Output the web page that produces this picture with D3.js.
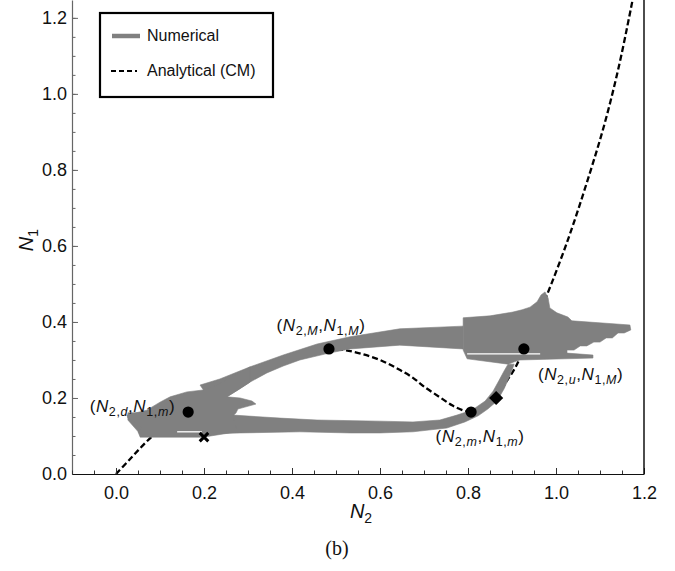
<!DOCTYPE html>
<html><head><meta charset="utf-8">
<script src="https://cdn.jsdelivr.net/npm/d3@7"></script>
<style>body{margin:0;background:#fff}svg{display:block}</style>
</head><body>
<svg id="c" width="675" height="571"></svg>
<script>
// ---------- data ----------
const xTicks = [0.0, 0.2, 0.4, 0.6, 0.8, 1.0, 1.2];
const yTicks = [0.0, 0.2, 0.4, 0.6, 0.8, 1.0, 1.2];
const xDomain = [-0.1, 1.2];
const yDomain = [0, 1.247];

// analytical critical manifold (N2, N1)
const analyticalCM = [
  [0,0],[0.03,0.037],[0.06,0.074],[0.09,0.108],[0.12,0.139],[0.164,0.163],
  [0.214,0.208],[0.259,0.239],[0.305,0.268],[0.380,0.305],[0.430,0.321],[0.484,0.329],
  [0.52,0.326],[0.558,0.316],[0.60,0.300],[0.64,0.277],[0.675,0.253],[0.70,0.230],
  [0.736,0.202],[0.765,0.180],[0.790,0.167],[0.807,0.163],
  [0.835,0.176],[0.864,0.200],[0.886,0.241],[0.907,0.279],[0.927,0.329],[0.951,0.395],
  [0.978,0.467],[1.027,0.616],[1.071,0.770],[1.111,0.924],[1.144,1.078],[1.174,1.247]
];

// numerical trajectory envelope (N2, N1) outlines
const numLowerBand = [
  [0.027,0.161],[0.077,0.161],[0.145,0.158],[0.266,0.155],[0.373,0.147],[0.457,0.142],
  [0.600,0.139],[0.675,0.137],[0.736,0.142],[0.775,0.155],[0.809,0.168],[0.839,0.192],
  [0.857,0.218],[0.870,0.245],[0.882,0.271],[0.891,0.289],[0.905,0.289],[0.895,0.258],
  [0.882,0.224],[0.866,0.192],[0.845,0.171],[0.823,0.153],[0.793,0.137],[0.752,0.121],
  [0.675,0.111],[0.600,0.108],[0.532,0.108],[0.418,0.111],[0.282,0.108],[0.191,0.105],
  [0.100,0.103],[0.055,0.105],[0.027,0.142]
];
const numUpperBand = [
  [0.191,0.234],[0.236,0.250],[0.305,0.282],[0.380,0.313],[0.457,0.342],[0.532,0.361],
  [0.645,0.382],[0.789,0.389],[0.789,0.329],[0.645,0.339],[0.532,0.329],[0.484,0.318],
  [0.418,0.300],[0.380,0.284],[0.343,0.266],[0.305,0.242],[0.277,0.221],[0.252,0.203],
  [0.214,0.195]
];
const numLeftBlob = [
  [0.025,0.155],[0.070,0.168],[0.100,0.189],[0.123,0.203],[0.161,0.216],[0.198,0.221],
  [0.230,0.234],[0.259,0.253],[0.282,0.266],[0.305,0.282],[0.305,0.242],[0.277,0.221],
  [0.252,0.203],[0.282,0.200],[0.309,0.192],[0.318,0.184],[0.293,0.176],[0.277,0.171],
  [0.273,0.161],[0.266,0.153],[0.275,0.111],[0.198,0.097],[0.055,0.097],[0.050,0.111],
  [0.059,0.121],[0.048,0.134],[0.027,0.147]
];
const numRightBlob = [
  [0.789,0.411],[0.850,0.416],[0.902,0.426],[0.923,0.432],[0.941,0.439],[0.957,0.453],
  [0.966,0.471],[0.975,0.479],[0.982,0.463],[0.986,0.437],[1.002,0.424],[1.027,0.413],
  [1.036,0.403],[1.168,0.392],[1.170,0.379],[1.155,0.371],[1.141,0.371],[1.128,0.358],
  [1.114,0.358],[1.100,0.347],[1.086,0.347],[1.070,0.337],[1.055,0.337],[1.041,0.326],
  [1.025,0.326],[1.025,0.318],[1.084,0.313],[1.084,0.305],[0.918,0.300],[0.905,0.295],
  [0.891,0.289],[0.798,0.303],[0.789,0.326]
];
const numGaps = [
  [[0.798,0.316],[0.964,0.316]],
  [[0.139,0.111],[0.195,0.111]]
];

// special points
const eqNames = ["d", "M", "m", "u"];
const eqN2 = [0.164, 0.484, 0.807, 0.927];
const eqN1 = [0.163, 0.329, 0.163, 0.329];
const eqLabels = [
  [["(",0,0],["N",1,0],["2,",0,1],["d",1,1],[",",0,0],["N",1,0],["1,",0,1],["m",1,1],[")",0,0]],
  [["(",0,0],["N",1,0],["2,",0,1],["M",1,1],[",",0,0],["N",1,0],["1,",0,1],["M",1,1],[")",0,0]],
  [["(",0,0],["N",1,0],["2,",0,1],["m",1,1],[",",0,0],["N",1,0],["1,",0,1],["m",1,1],[")",0,0]],
  [["(",0,0],["N",1,0],["2,",0,1],["u",1,1],[",",0,0],["N",1,0],["1,",0,1],["M",1,1],[")",0,0]]
];
const diamondPoint = [0.864, 0.200];
const crossPoint = [0.200, 0.097];
const legendItems = ["Numerical", "Analytical (CM)"];

// ---------- drawing ----------
const FONT = "'Liberation Sans', Arial, Helvetica, sans-serif";
const GRAY = "#808080";
const svg = d3.select("#c").attr("font-family", FONT);
const pL = 72, pR = 644, pT = 0, pB = 474;
const x = d3.scaleLinear().domain(xDomain).range([pL, pR]);
const y = d3.scaleLinear().domain(yDomain).range([pB, pT]);

svg.append("defs").append("clipPath").attr("id","clip")
  .append("rect").attr("x", pL).attr("y", pT).attr("width", pR-pL).attr("height", pB-pT);

const plot = svg.append("g").attr("clip-path","url(#clip)");
const line = d3.line().x(d => x(d[0])).y(d => y(d[1]));
const smooth = d3.line().x(d => x(d[0])).y(d => y(d[1])).curve(d3.curveCatmullRom.alpha(0.5));
const closed = d3.line().x(d => x(d[0])).y(d => y(d[1])).curve(d3.curveLinearClosed);

// analytical (under the numerical envelope)
plot.append("path").datum(analyticalCM).attr("d", smooth)
  .attr("fill","none").attr("stroke","#000").attr("stroke-width",2.3)
  .attr("stroke-dasharray","6,3");

// numerical envelope
[numLowerBand, numUpperBand, numLeftBlob, numRightBlob].forEach(poly => {
  plot.append("path").datum(poly).attr("d", closed)
    .attr("fill", GRAY).attr("stroke", GRAY).attr("stroke-width", 0.6)
    .attr("stroke-linejoin","round");
});
numGaps.forEach(g => {
  plot.append("path").datum(g).attr("d", line)
    .attr("stroke","#fff").attr("stroke-width",1.3).attr("fill","none");
});

// markers
plot.selectAll("circle.eq").data(eqN2).enter().append("circle")
  .attr("cx", d => x(d)).attr("cy", (d,i) => y(eqN1[i])).attr("r", 5.6).attr("fill","#000");
plot.append("path")
  .attr("d", d3.symbol().type(d3.symbolSquare).size(100)())
  .attr("transform", `translate(${x(diamondPoint[0])},${y(diamondPoint[1])}) rotate(45)`)
  .attr("fill","#000");
{
  const cx = x(crossPoint[0]), cy = y(crossPoint[1]), s = 4.3;
  plot.append("path").attr("d", `M${cx-s},${cy-s}L${cx+s},${cy+s}M${cx-s},${cy+s}L${cx+s},${cy-s}`)
    .attr("stroke","#000").attr("stroke-width",3).attr("fill","none");
}

// rich text helper
function rich(sel, parts, size, subSize, shift) {
  let inSub = false;
  parts.forEach(([t, it, sub]) => {
    const ts = sel.append("tspan").text(t)
      .attr("font-style", it ? "italic" : "normal")
      .attr("font-size", sub ? subSize : size);
    if (sub && !inSub) ts.attr("dy", shift);
    if (!sub && inSub) ts.attr("dy", -shift);
    inSub = !!sub;
  });
}

// point labels
const labelPos = [
  {dx:-13, dy:0, anchor:"end"},
  {dx:-8, dy:-18, anchor:"middle"},
  {dx:9, dy:30, anchor:"middle"},
  {dx:14, dy:31, anchor:"start"}
];
eqLabels.forEach((parts, i) => {
  const t = svg.append("text")
    .attr("x", x(eqN2[i]) + labelPos[i].dx)
    .attr("y", y(eqN1[i]) + labelPos[i].dy)
    .attr("text-anchor", labelPos[i].anchor)
    .attr("letter-spacing", 0.6)
    .attr("fill","#111");
  rich(t, parts, 17, 12.5, 4);
});

// axes
const tickFont = 18;
const yAxis = svg.append("g").attr("transform", `translate(${pL},0)`)
  .call(d3.axisLeft(y).tickValues(yTicks).tickFormat(d3.format(".1f")).tickSize(-6).tickSizeOuter(0).tickPadding(5));
const yMinor = svg.append("g").attr("transform", `translate(${pL},0)`)
  .call(d3.axisLeft(y).tickValues(d3.range(0, 1.2476, 0.05)).tickFormat("").tickSize(-3.5).tickSizeOuter(0));
const xAxis = svg.append("g").attr("transform", `translate(0,${pB})`)
  .call(d3.axisBottom(x).tickValues(xTicks).tickFormat(d3.format(".1f")).tickSize(-6).tickSizeOuter(0).tickPadding(12));
const xMinor = svg.append("g").attr("transform", `translate(0,${pB})`)
  .call(d3.axisBottom(x).tickValues(d3.range(-0.1, 1.2001, 0.05)).tickFormat("").tickSize(-3.5).tickSizeOuter(0));
[yAxis, xAxis, yMinor, xMinor].forEach(g => {
  g.selectAll("text").attr("font-size", tickFont).attr("font-family", FONT).attr("fill","#111");
});
yAxis.select(".domain").attr("stroke","#666").attr("stroke-width",1.2);
yMinor.select(".domain").remove();
yAxis.selectAll(".tick line").attr("stroke","#666");
yMinor.selectAll(".tick line").attr("stroke","#666");
xAxis.select(".domain").attr("stroke","#111").attr("stroke-width",1.2);
xMinor.select(".domain").remove();
xAxis.selectAll(".tick line").attr("stroke","#333");
xMinor.selectAll(".tick line").attr("stroke","#333");

// right frame
svg.append("line").attr("x1", pR).attr("x2", pR).attr("y1", pT).attr("y2", pB)
  .attr("stroke","#000").attr("stroke-width",1.4);

// axis titles
const xt = svg.append("text").attr("x", 361).attr("y", 518).attr("text-anchor","middle").attr("fill","#111");
rich(xt, [["N",1,0],["2",0,1]], 20, 14, 5);
const yt = svg.append("text").attr("transform","translate(33,240) rotate(-90)").attr("text-anchor","middle").attr("fill","#111");
rich(yt, [["N",1,0],["1",0,1]], 20, 14, 5);

// caption
svg.append("text").attr("x", 337).attr("y", 555).attr("text-anchor","middle")
  .attr("font-family","'Liberation Serif','DejaVu Serif',serif").attr("font-size",20).attr("fill","#111")
  .text("(b)");

// legend
const lg = svg.append("g");
lg.append("rect").attr("x",100).attr("y",13).attr("width",173).attr("height",84)
  .attr("fill","#fff").attr("stroke","#000").attr("stroke-width",2.2);
lg.append("line").attr("x1",112).attr("x2",140).attr("y1",36).attr("y2",36)
  .attr("stroke",GRAY).attr("stroke-width",4.5);
lg.append("line").attr("x1",111).attr("x2",137).attr("y1",71).attr("y2",71)
  .attr("stroke","#000").attr("stroke-width",2.2).attr("stroke-dasharray","5,3");
lg.selectAll("text.li").data(legendItems).enter().append("text")
  .attr("x",147).attr("y",(d,i) => 41 + i*35)
  .attr("font-size",16).attr("fill","#111").text(d => d);
</script>
</body></html>
